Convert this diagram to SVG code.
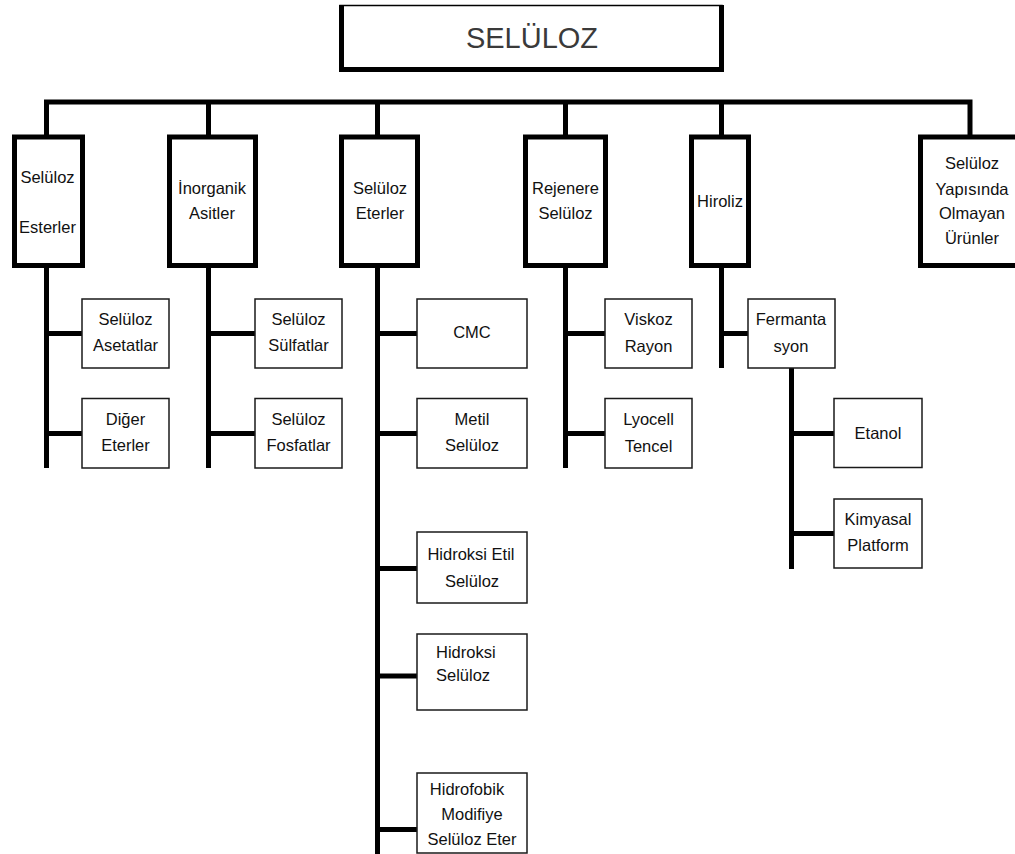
<svg xmlns="http://www.w3.org/2000/svg" width="1015" height="854" viewBox="0 0 1015 854">
<style>
  .main { fill: #fff; stroke: #000; stroke-width: 5; }
  .sub { fill: #fff; stroke: #1a1a1a; stroke-width: 1.5; }
  .wire { fill: none; stroke: #000; stroke-width: 5; stroke-linejoin: miter; stroke-linecap: butt; }
  text { font-family: "Liberation Sans", Arial, sans-serif; font-size: 16.5px; fill: #111; text-anchor: middle; }
  .title { font-size: 29px; fill: #3a3a3a; }
  .left { text-anchor: start; }
</style>
<rect width="1015" height="854" fill="#fff"/>
<g id="connectors">
  <path class="wire" d="M46.5,136 V102 H970 V136"/>
  <path class="wire" d="M208.5,102 V136 M377.5,102 V136 M565.5,102 V136 M721.5,102 V136"/>
  <path class="wire" d="M46.5,266 V468 M49,333.5 H82 M49,433.5 H82"/>
  <path class="wire" d="M208.5,266 V468 M211,333.5 H255 M211,433.5 H255"/>
  <path class="wire" d="M377.5,266 V854 M380,333.5 H417 M380,433.5 H417 M380,568.5 H417 M380,676 H417 M380,829.5 H417"/>
  <path class="wire" d="M565.5,266 V468 M568,333.5 H605 M568,433.5 H605"/>
  <path class="wire" d="M721.5,266 V368 M724,333.5 H748"/>
  <path class="wire" d="M791.5,368 V569 M794,433.5 H834 M794,533.5 H834"/>
</g>
<g id="seluloz">
  <rect x="340" y="5.5" width="382" height="64" fill="#fff" stroke="#000" stroke-width="1.5"/>
  <path d="M341.5,5 V69.5 H721.5 V5" fill="none" stroke="#000" stroke-width="5"/>
  <text class="title" x="532" y="48">SELÜLOZ</text>
</g>
<g id="selulozEsterler">
  <rect class="main" x="14.5" y="137" width="68" height="128.5"/>
  <text x="47.5" y="183">Selüloz</text>
  <text x="47.5" y="233">Esterler</text>
</g>
<g id="inorganikAsitler">
  <rect class="main" x="169.5" y="137" width="86" height="128.5"/>
  <text x="212" y="194">İnorganik</text>
  <text x="212" y="219">Asitler</text>
</g>
<g id="selulozEterler">
  <rect class="main" x="341.5" y="137" width="76" height="128.5"/>
  <text x="380" y="194">Selüloz</text>
  <text x="380" y="219">Eterler</text>
</g>
<g id="rejenereSeluloz">
  <rect class="main" x="525.5" y="137" width="80" height="128.5"/>
  <text x="565.5" y="194">Rejenere</text>
  <text x="565.5" y="219">Selüloz</text>
</g>
<g id="hiroliz">
  <rect class="main" x="691.5" y="137" width="57" height="128.5"/>
  <text x="720" y="207">Hiroliz</text>
</g>
<g id="selulozYapisinda">
  <rect class="main" x="920.5" y="137" width="105" height="128.5"/>
  <text x="972" y="169">Selüloz</text>
  <text x="972" y="195">Yapısında</text>
  <text x="972" y="219">Olmayan</text>
  <text x="972" y="244">Ürünler</text>
</g>
<g id="selulozAsetatlar">
  <rect class="sub" x="82" y="299" width="87" height="69"/>
  <text x="125.5" y="325">Selüloz</text>
  <text x="125.5" y="351">Asetatlar</text>
</g>
<g id="digerEterler">
  <rect class="sub" x="82" y="398.5" width="87" height="69.5"/>
  <text x="125.5" y="425">Diğer</text>
  <text x="125.5" y="451">Eterler</text>
</g>
<g id="selulozSulfatlar">
  <rect class="sub" x="255" y="299" width="87" height="69"/>
  <text x="298.5" y="325">Selüloz</text>
  <text x="298.5" y="351">Sülfatlar</text>
</g>
<g id="selulozFosfatlar">
  <rect class="sub" x="255" y="398.5" width="87" height="69.5"/>
  <text x="298.5" y="425">Selüloz</text>
  <text x="298.5" y="451">Fosfatlar</text>
</g>
<g id="cmc">
  <rect class="sub" x="417" y="299" width="110" height="69"/>
  <text x="472" y="338">CMC</text>
</g>
<g id="metilSeluloz">
  <rect class="sub" x="417" y="398.5" width="110" height="69.5"/>
  <text x="472" y="425">Metil</text>
  <text x="472" y="451">Selüloz</text>
</g>
<g id="hidroksiEtilSeluloz">
  <rect class="sub" x="417" y="532" width="110" height="71"/>
  <text x="471" y="560">Hidroksi Etil</text>
  <text x="472" y="587">Selüloz</text>
</g>
<g id="hidroksiSeluloz">
  <rect class="sub" x="417" y="634" width="110" height="76"/>
  <text class="left" x="436" y="658">Hidroksi</text>
  <text class="left" x="436" y="681">Selüloz</text>
</g>
<g id="hidrofobik">
  <rect class="sub" x="417" y="773" width="110" height="80"/>
  <text x="467" y="795">Hidrofobik</text>
  <text x="472" y="820">Modifiye</text>
  <text x="472" y="845">Selüloz Eter</text>
</g>
<g id="viskozRayon">
  <rect class="sub" x="605" y="299" width="87" height="69"/>
  <text x="648.5" y="325">Viskoz</text>
  <text x="648.5" y="352">Rayon</text>
</g>
<g id="lyocellTencel">
  <rect class="sub" x="605" y="398.5" width="87" height="69.5"/>
  <text x="648.5" y="425">Lyocell</text>
  <text x="648.5" y="452">Tencel</text>
</g>
<g id="fermantasyon">
  <rect class="sub" x="748" y="299" width="87" height="69"/>
  <text x="791" y="325">Fermanta</text>
  <text x="791" y="352">syon</text>
</g>
<g id="etanol">
  <rect class="sub" x="834" y="398.5" width="88" height="69"/>
  <text x="878" y="439">Etanol</text>
</g>
<g id="kimyasalPlatform">
  <rect class="sub" x="834" y="499" width="88" height="69"/>
  <text x="878" y="525">Kimyasal</text>
  <text x="878" y="551">Platform</text>
</g>
</svg>
